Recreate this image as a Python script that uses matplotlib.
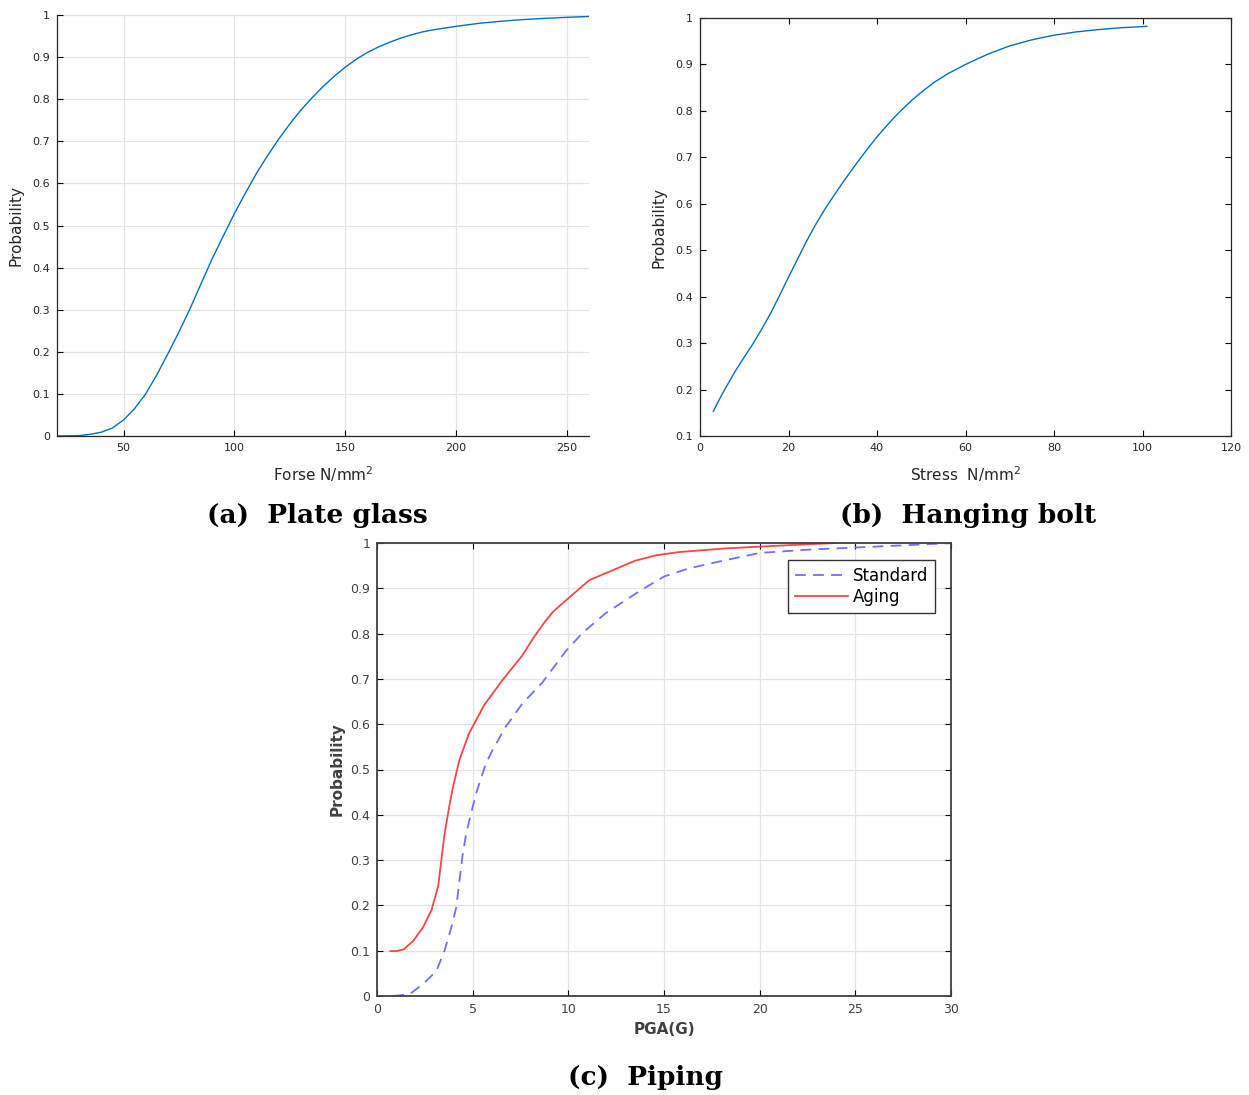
import matplotlib
matplotlib.use("Agg")
import matplotlib.pyplot as plt
from matplotlib.ticker import FormatStrFormatter, MultipleLocator



# (a) plate glass
GLASS_X=[20,30,35,40,45,50,55,60,65,70,75,80,85,90,95,100,105,110,115,120,125,130,135,140,145,150,155,160,165,170,175,180,185,190,195,200,210,220,230,240,250,260]
GLASS_P=[0.0,0.001,0.004,0.009,0.019,0.038,0.065,0.1,0.145,0.195,0.247,0.302,0.362,0.421,0.475,0.528,0.577,0.624,0.666,0.705,0.741,0.774,0.803,0.83,0.854,0.876,0.895,0.911,0.924,0.935,0.945,0.953,0.96,0.965,0.969,0.973,0.98,0.985,0.989,0.992,0.9945,0.9965]

# (b) hanging bolt
BOLT_X=[3,4,5,6,8,10,12,14,16,18,20,22,24,26,28,30,32,34,36,38,40,42,44,46,48,50,53,56,60,65,70,75,80,85,90,95,101]
BOLT_P=[0.153,0.172,0.19,0.207,0.24,0.27,0.299,0.331,0.365,0.403,0.442,0.48,0.518,0.553,0.585,0.614,0.642,0.669,0.695,0.72,0.744,0.766,0.787,0.806,0.824,0.84,0.862,0.88,0.9,0.922,0.94,0.953,0.963,0.97,0.975,0.979,0.982]

# (c) piping
AGING_X=[0.7,1.0,1.4,1.9,2.4,2.85,3.2,3.36,3.53,3.8,3.97,4.3,4.8,5.6,6.55,7.6,8.2,8.7,9.2,9.7,11.1,12.1,13.5,14.6,15.8,18.2,20,22.4,24]
AGING_P=[0.099,0.099,0.103,0.122,0.151,0.19,0.243,0.299,0.358,0.424,0.461,0.52,0.579,0.642,0.697,0.752,0.792,0.822,0.848,0.867,0.918,0.936,0.961,0.973,0.98,0.988,0.992,0.997,1.0]
STD_X=[0.85,1.7,2.4,3.1,3.53,3.88,4.14,4.31,4.48,4.66,4.91,5.17,5.69,6.03,6.72,7.59,8.64,9.86,10.73,11.95,13.69,15,16.3,18.2,20,22.4,25,27.6,30]
STD_P=[0.0,0.004,0.026,0.055,0.1,0.151,0.195,0.254,0.313,0.358,0.402,0.446,0.513,0.542,0.594,0.645,0.692,0.761,0.801,0.845,0.893,0.926,0.944,0.962,0.978,0.985,0.99,0.995,1.0]

CAPTIONS=["(a)  Plate glass","(b)  Hanging bolt","(c)  Piping"]

W,H=1249,1095
MBLUE="#0072bd"
TICK="#262626"
GRID="#e3e3e3"



def _box(l,t,r,b):
	return [l/W,1-b/H,(r-l)/W,(b-t)/H]



def _style(ax,box,grid,size=8,color=TICK):
	ax.tick_params(direction="in",length=4,width=0.8,labelsize=size,colors="k",labelcolor=color,
		top=box,right=box,pad=5)
	for s in ax.spines.values():
		s.set_linewidth(0.9)
		s.set_color("#262626")
	if not box:
		ax.spines["top"].set_visible(False)
		ax.spines["right"].set_visible(False)
	if grid:
		ax.grid(True,color=GRID,linewidth=0.9)
		ax.set_axisbelow(True)
	ax.yaxis.set_major_formatter(FormatStrFormatter("%g"))
	ax.xaxis.set_major_formatter(FormatStrFormatter("%g"))



fig=plt.figure(figsize=(W/100,H/100),dpi=100)

# (a)
ax=fig.add_axes(_box(57,15,589,436))
ax.plot(GLASS_X,GLASS_P,"-",color=MBLUE,linewidth=1.0)
ax.set_xlim(20,260)
ax.set_ylim(0,1)
ax.xaxis.set_major_locator(MultipleLocator(50))
ax.yaxis.set_major_locator(MultipleLocator(0.1))
_style(ax,False,True)
ax.set_xlabel("Forse N/mm$^2$",fontsize=11,color=TICK,labelpad=8)
ax.set_ylabel("Probability",fontsize=11,color=TICK,labelpad=6)

# (b)
ax=fig.add_axes(_box(700,18,1231,436))
ax.plot(BOLT_X,BOLT_P,"-",color=MBLUE,linewidth=1.0)
ax.set_xlim(0,120)
ax.set_ylim(0.1,1)
ax.xaxis.set_major_locator(MultipleLocator(20))
ax.yaxis.set_major_locator(MultipleLocator(0.1))
_style(ax,True,False)
ax.set_xlabel("Stress  N/mm$^2$",fontsize=11,color=TICK,labelpad=8)
ax.set_ylabel("Probability",fontsize=11,color=TICK,labelpad=6)

# (c)
ax=fig.add_axes(_box(377,543,951,996))
ax.plot(STD_X,STD_P,"--",color="#6f6fff",linewidth=1.3,dashes=(6,4),label="Standard")
ax.plot(AGING_X,AGING_P,"-",color="#ff4444",linewidth=1.3,label="Aging")
ax.set_xlim(0,30)
ax.set_ylim(0,1)
ax.xaxis.set_major_locator(MultipleLocator(5))
ax.yaxis.set_major_locator(MultipleLocator(0.1))
_style(ax,True,True,size=9,color="#404040")
for s in ax.spines.values():
	s.set_linewidth(1.3)
	s.set_color("#404040")
ax.set_xlabel("PGA(G)",fontsize=11,fontweight="bold",color="#404040",labelpad=4)
ax.set_ylabel("Probability",fontsize=11,fontweight="bold",color="#404040",labelpad=4)
leg=ax.legend(loc="upper right",bbox_to_anchor=(0.972,0.9625),borderaxespad=0,fontsize=12,
	frameon=True,fancybox=False,edgecolor="#333333",framealpha=1,handlelength=3.2,handletextpad=0.3,
	borderpad=0.4,labelspacing=0.2)
leg.get_frame().set_linewidth(1.0)

# captions
for t,(x,y) in zip(CAPTIONS,[(317,515),(968,515),(646,1078)]):
	fig.text(x/W,1-y/H,t,ha="center",va="center",fontsize=19,fontweight="bold",family="DejaVu Serif")

fig.savefig("out.png",dpi=100)
